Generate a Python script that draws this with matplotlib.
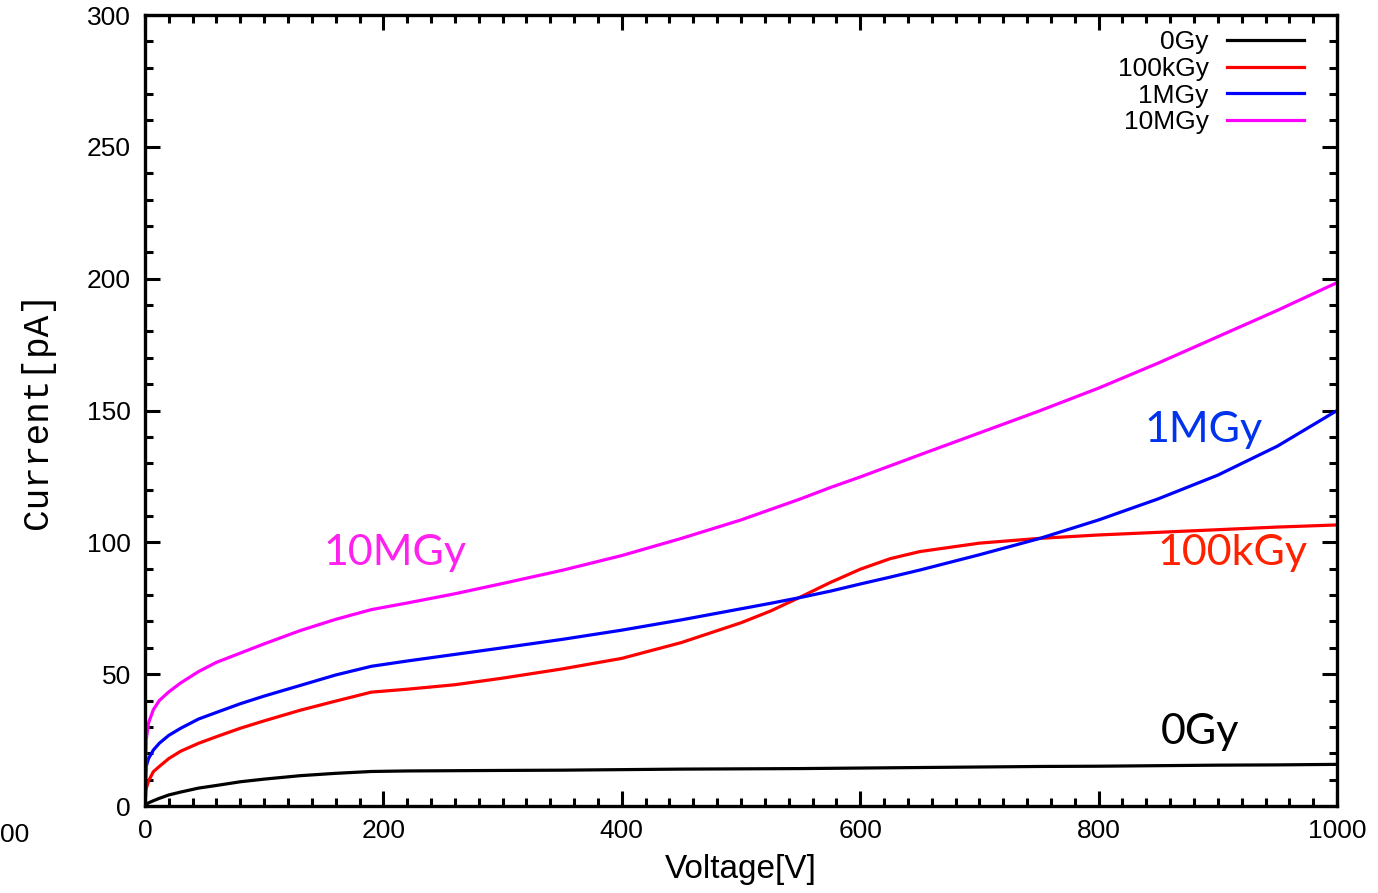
import matplotlib
matplotlib.use("Agg")
import matplotlib.pyplot as plt
from matplotlib.ticker import MultipleLocator

# Voltage points [V]
voltage = [0, 1, 3, 7, 12, 20, 30, 45, 60, 80, 100, 130, 160, 190, 220, 260,
           300, 350, 400, 450, 500, 525, 550, 575, 600, 625, 650, 700, 750,
           800, 850, 900, 950, 1000]

# Current [pA] for each dose
i_0gy = [0, 0.6, 1.2, 2, 2.9, 4.2, 5.3, 6.8, 7.8, 9.2, 10.2, 11.5, 12.4, 13.1,
         13.3, 13.4, 13.5, 13.6, 13.8, 14, 14.1, 14.15, 14.2, 14.3, 14.4,
         14.5, 14.6, 14.8, 15, 15.1, 15.3, 15.5, 15.6, 15.8]
i_100kgy = [0, 6.5, 9.5, 13, 15, 18, 20.8, 23.8, 26.3, 29.5, 32.3, 36.3, 39.8,
            43.2, 44.3, 46, 48.5, 52, 56, 62, 69.5, 74, 79.3, 84.8,
            89.8, 93.8, 96.5, 99.7, 101.5, 102.8, 103.8, 104.8, 105.8, 106.6]
i_1mgy = [0, 15, 18, 21.2, 23.8, 26.8, 29.5, 33, 35.5, 38.8, 41.7, 45.7, 49.7,
          53, 55, 57.5, 60, 63.2, 66.7, 70.6, 74.8, 76.9, 79.1, 81.5, 84.2,
          86.8, 89.5, 95.3, 101.4, 108.5, 116.5, 125.5, 136.5, 150]
i_10mgy = [0, 25, 31.5, 36.5, 40, 43.3, 46.7, 51, 54.5, 58, 61.5, 66.5, 70.8,
           74.5, 77, 80.5, 84.4, 89.4, 95, 101.5, 108.5, 112.5, 116.5, 120.8,
           124.8, 129, 133.2, 141.5, 149.8, 158.5, 168, 178, 188, 198.5]

labels = ["0Gy", "100kGy", "1MGy", "10MGy"]
colors = ["black", "#ff0000", "#0000ff", "#ff00ff"]

plt.rcParams['font.family'] = ['Liberation Sans', 'DejaVu Sans']

fig = plt.figure(figsize=(13.78, 8.93), dpi=100)
ax = fig.add_axes([0.1052, 0.0974, 0.8651, 0.8858])

for vals, lab, col in zip([i_0gy, i_100kgy, i_1mgy, i_10mgy], labels, colors):
    ax.plot(voltage, vals, color=col, lw=2.3, label=lab, solid_joinstyle='round')

ax.set_xlim(0, 1000)
ax.set_ylim(0, 300)
ax.xaxis.set_major_locator(MultipleLocator(200))
ax.xaxis.set_minor_locator(MultipleLocator(20))
ax.yaxis.set_major_locator(MultipleLocator(50))
ax.yaxis.set_minor_locator(MultipleLocator(10))
ax.tick_params(which='both', direction='in', top=True, right=True,
               width=2.2, labelsize=19)
ax.tick_params(which='major', length=11)
ax.tick_params(which='minor', length=5.5)
ax.tick_params(axis='x', pad=9)
ax.tick_params(axis='y', pad=10)
for s in ax.spines.values():
    s.set_linewidth(2.4)

ax.set_xlabel("Voltage[V]", fontsize=24, labelpad=8)
ax.set_ylabel("Current[pA]", fontsize=26, family='Liberation Mono', labelpad=23)

leg = ax.legend(loc='upper right', frameon=False, markerfirst=False,
                fontsize=19, handlelength=2.9, labelspacing=0.1,
                handletextpad=0.7, borderaxespad=0.3,
                bbox_to_anchor=(0.9876, 1.004))
for t in leg.get_texts():
    t.set_ha('right')

ann = dict(family=['Lato', 'DejaVu Sans'], fontsize=31, ha='center', va='center')
ax.text(210, 96, "10MGy", color="#ff22ee", **ann)
ax.text(888, 142.5, "1MGy", color="#0033ee", **ann)
ax.text(912, 96, "100kGy", color="#ff2200", **ann)
ax.text(885, 28, "0Gy", color="black", **ann)

fig.text(0.0, 1 - 835 / 893, "00", fontsize=19, ha='left', va='center')

fig.savefig("out.png", dpi=100)
